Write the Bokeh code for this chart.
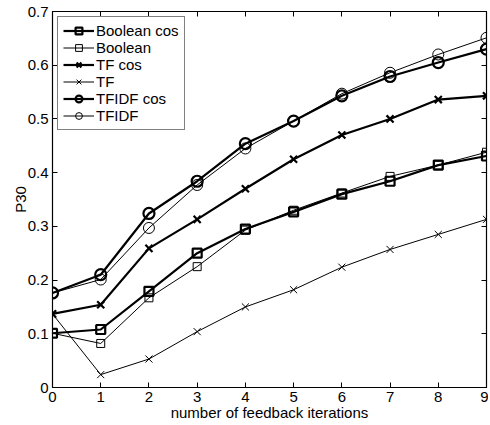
from bokeh.plotting import figure
from bokeh.models import LinearAxis, Range1d, FixedTicker, Legend, LegendItem
from bokeh.embed import file_html
from bokeh.resources import INLINE

iterations = [0, 1, 2, 3, 4, 5, 6, 7, 8, 9]
y_ticks = [0, 0.1, 0.2, 0.3, 0.4, 0.5, 0.6, 0.7]
boolean_cos = [0.101, 0.108, 0.179, 0.250, 0.295, 0.327, 0.360, 0.384, 0.414, 0.431]
boolean = [0.101, 0.082, 0.167, 0.225, 0.293, 0.330, 0.362, 0.393, 0.414, 0.438]
tf_cos = [0.137, 0.154, 0.259, 0.313, 0.370, 0.425, 0.470, 0.500, 0.536, 0.543]
tf = [0.137, 0.024, 0.053, 0.104, 0.150, 0.182, 0.224, 0.257, 0.285, 0.313]
tfidf_cos = [0.176, 0.210, 0.324, 0.384, 0.454, 0.496, 0.543, 0.579, 0.605, 0.630]
tfidf = [0.176, 0.201, 0.297, 0.377, 0.445, 0.496, 0.547, 0.586, 0.620, 0.651]

series = [
    ("Boolean cos", boolean_cos, "square", 2.2, 9),
    ("Boolean", boolean, "square", 1.0, 8),
    ("TF cos", tf_cos, "x", 2.2, 10),
    ("TF", tf, "x", 1.0, 10),
    ("TFIDF cos", tfidf_cos, "circle", 2.2, 11),
    ("TFIDF", tfidf, "circle", 1.0, 11),
]

FONT = "Liberation Sans"

p = figure(width=488, height=423, output_backend="svg", toolbar_location=None,
           x_range=Range1d(0, 9), y_range=Range1d(0, 0.7),
           min_border_left=52, min_border_right=2, min_border_top=11, min_border_bottom=0)
p.xaxis.visible = False
p.yaxis.visible = False
p.grid.visible = False
p.outline_line_color = "black"
p.outline_line_width = 1
p.background_fill_color = "white"

def style_axis(ax, labels=True):
    ax.axis_line_color = "black"
    ax.axis_line_width = 1.2
    ax.major_tick_in = 5
    ax.major_tick_out = 0
    ax.minor_tick_line_color = None
    ax.major_tick_line_color = "black"
    if labels:
        ax.major_label_text_font = FONT
        ax.major_label_text_font_size = "15px"
        ax.major_label_text_color = "black"
        ax.axis_label_text_font = FONT
        ax.axis_label_text_font_size = "15px"
        ax.axis_label_text_font_style = "normal"
        ax.axis_label_text_color = "black"
    else:
        ax.major_label_overrides = {t: "" for t in ax.ticker.ticks}
        ax.major_label_text_font_size = "1px"
        ax.major_label_standoff = 0

xb = LinearAxis(axis_label="number of feedback iterations",
                ticker=FixedTicker(ticks=iterations))
style_axis(xb)
xb.major_label_standoff = 4
xb.axis_label_standoff = -1
p.add_layout(xb, "below")

yl = LinearAxis(axis_label="P30", ticker=FixedTicker(ticks=y_ticks))
style_axis(yl)
yl.major_label_overrides = {0: "0"}
yl.major_label_standoff = 4
yl.axis_label_standoff = -4
p.add_layout(yl, "left")

xt = LinearAxis(ticker=FixedTicker(ticks=iterations))
style_axis(xt, labels=False)
p.add_layout(xt, "above")
yr = LinearAxis(ticker=FixedTicker(ticks=y_ticks))
style_axis(yr, labels=False)
p.add_layout(yr, "right")

items = []
for name, vals, marker, lw, size in series:
    r1 = p.line(iterations, vals, line_color="black", line_width=lw)
    r2 = p.scatter(iterations, vals, marker=marker, size=size, line_color="black",
                   line_width=lw, fill_color="white", fill_alpha=0.0)
    items.append(LegendItem(label=name, renderers=[r1, r2]))

legend = Legend(items=items, location="top_left")
legend.label_text_font = FONT
legend.label_text_font_size = "15px"
legend.label_text_color = "black"
legend.glyph_width = 31
legend.glyph_height = 17
legend.label_height = 17
legend.spacing = 0
legend.padding = 5
legend.margin = 5
legend.label_standoff = 2
legend.border_line_color = "black"
legend.border_line_width = 1
legend.background_fill_alpha = 1.0
p.add_layout(legend, "center")

open("out.html", "w").write(file_html(p, INLINE))
